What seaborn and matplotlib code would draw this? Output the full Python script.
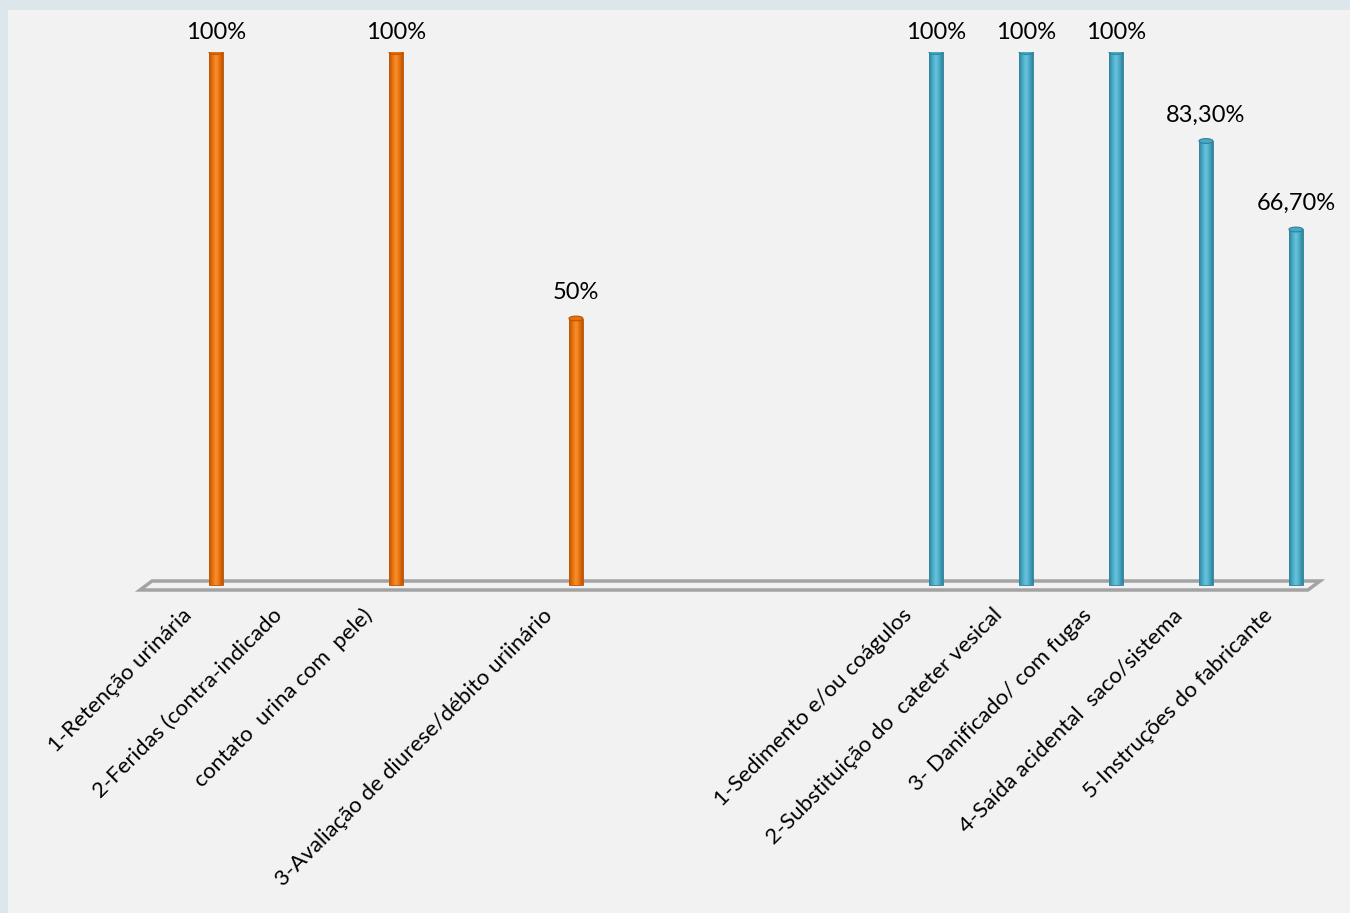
import matplotlib
matplotlib.use("Agg")
import numpy as np
import pandas as pd
import seaborn as sns
import matplotlib.pyplot as plt
from matplotlib.patches import Polygon, Rectangle, Ellipse
from matplotlib.transforms import ScaledTranslation
from matplotlib.colors import LinearSegmentedColormap

# ---------------- data ----------------
categories = [
    "1-Retenção urinária",
    "2-Feridas (contra-indicado",
    "contato  urina com  pele)",
    "",
    "3-Avaliação de diurese/débito uriinário",
    "",
    "",
    "",
    "1-Sedimento e/ou coágulos",
    "2-Substituição do  cateter vesical",
    "3- Danificado/ com fugas",
    "4-Saída acidental  saco/sistema",
    "5-Instruções do fabricante",
]
series1 = [1.00, np.nan, 1.00, np.nan, 0.50, np.nan, np.nan, np.nan,
           np.nan, np.nan, np.nan, np.nan, np.nan]
series2 = [np.nan, np.nan, np.nan, np.nan, np.nan, np.nan, np.nan, np.nan,
           1.00, 1.00, 1.00, 0.833, 0.667]
value_labels = ["100%", "", "100%", "", "50%", "", "", "",
                "100%", "100%", "100%", "83,30%", "66,70%"]
series_names = ["Série1", "Série2"]

# ---------------- style ----------------
sns.set_theme(style="white")
plt.rcParams["font.family"] = ["Lato", "DejaVu Sans"]

colors = {"Série1": "#e8700c", "Série2": "#47aac6"}
dark = {"Série1": "#b95405", "Série2": "#2f8199"}
light = {"Série1": "#f7922e", "Série2": "#6cc3dc"}

keys = [f"c{i}" for i in range(len(categories))]
df = pd.DataFrame({
    "key": keys * 2,
    "value": series1 + series2,
    "series": [series_names[0]] * len(keys) + [series_names[1]] * len(keys),
})

W, H = 1350, 913
fig = plt.figure(figsize=(W / 100, H / 100), dpi=100)
fig.patch.set_facecolor("#dce7eb")
fig.add_artist(Rectangle((8 / W, 0), 1, 1 - 10 / H, transform=fig.transFigure,
                         facecolor="#f2f2f2", edgecolor="none", zorder=0))

ax = fig.add_axes([140 / W, 1 - 590 / H, 1180 / W, 538 / H])
ax.set_facecolor("none")

sns.barplot(data=df, x="key", y="value", hue="series", order=keys,
            hue_order=series_names, palette=colors, dodge=False,
            width=0.155, saturation=1, legend=False, ax=ax, zorder=3)

ax.set_xlim(-0.844, 12.267)
ax.set_ylim(-5 / 533, 1.0)

# cylinder shading
for p in ax.patches:
    h = p.get_height()
    if not np.isfinite(h) or h <= 0:
        continue
    fc = p.get_facecolor()
    s = series_names[0] if np.allclose(fc[:3], matplotlib.colors.to_rgb(colors["Série1"]), atol=0.02) else series_names[1]
    cmap = LinearSegmentedColormap.from_list(
        "cyl", [dark[s], colors[s], light[s], colors[s], dark[s]])
    x0 = p.get_x()
    x1 = x0 + p.get_width()
    grad = np.linspace(0, 1, 64).reshape(1, -1)
    im = ax.imshow(grad, extent=[x0, x1, 0, h], aspect="auto", cmap=cmap,
                   zorder=4, interpolation="bicubic")
    im.set_clip_path(p)
    ax.add_patch(Ellipse((x0 + p.get_width() / 2, h), p.get_width(), 0.009,
                         facecolor=colors[s], edgecolor=dark[s], lw=0.8, zorder=5))
    p.set_edgecolor(dark[s])
    p.set_linewidth(0.6)

# floor
floor = Polygon([(0, 0), (1168 / 1180, 0), (1, 9 / 538), (12 / 1180, 9 / 538)],
                closed=True, transform=ax.transAxes, facecolor="none",
                edgecolor="#a3a3a3", lw=2.5, zorder=2, clip_on=False)
ax.add_patch(floor)

# value labels (kept inside the chart area at the top, like the original)
vals = [a if np.isfinite(a) else b for a, b in zip(series1, series2)]
y_cap = (585 - 32) / 533
for i, (v, lab) in enumerate(zip(vals, value_labels)):
    if np.isfinite(v) and lab:
        ypos = min(v + 26 / 533, y_cap)
        ax.text(i, ypos, lab, ha="center", va="center", fontsize=17,
                color="#000000", clip_on=False)

# category labels
ax.set_xticks(range(len(categories)))
ax.set_xticklabels(categories, rotation=45, ha="right", rotation_mode="anchor",
                   fontsize=16, color="#000000")
ax.tick_params(axis="x", length=0, pad=0)
offset = ScaledTranslation(-0.34, -0.15, fig.dpi_scale_trans)
for lbl in ax.get_xticklabels():
    lbl.set_transform(lbl.get_transform() + offset)

ax.set_yticks([])
ax.set_xlabel("")
ax.set_ylabel("")
for sp in ax.spines.values():
    sp.set_visible(False)

fig.savefig("out.png", dpi=100, facecolor=fig.get_facecolor())
